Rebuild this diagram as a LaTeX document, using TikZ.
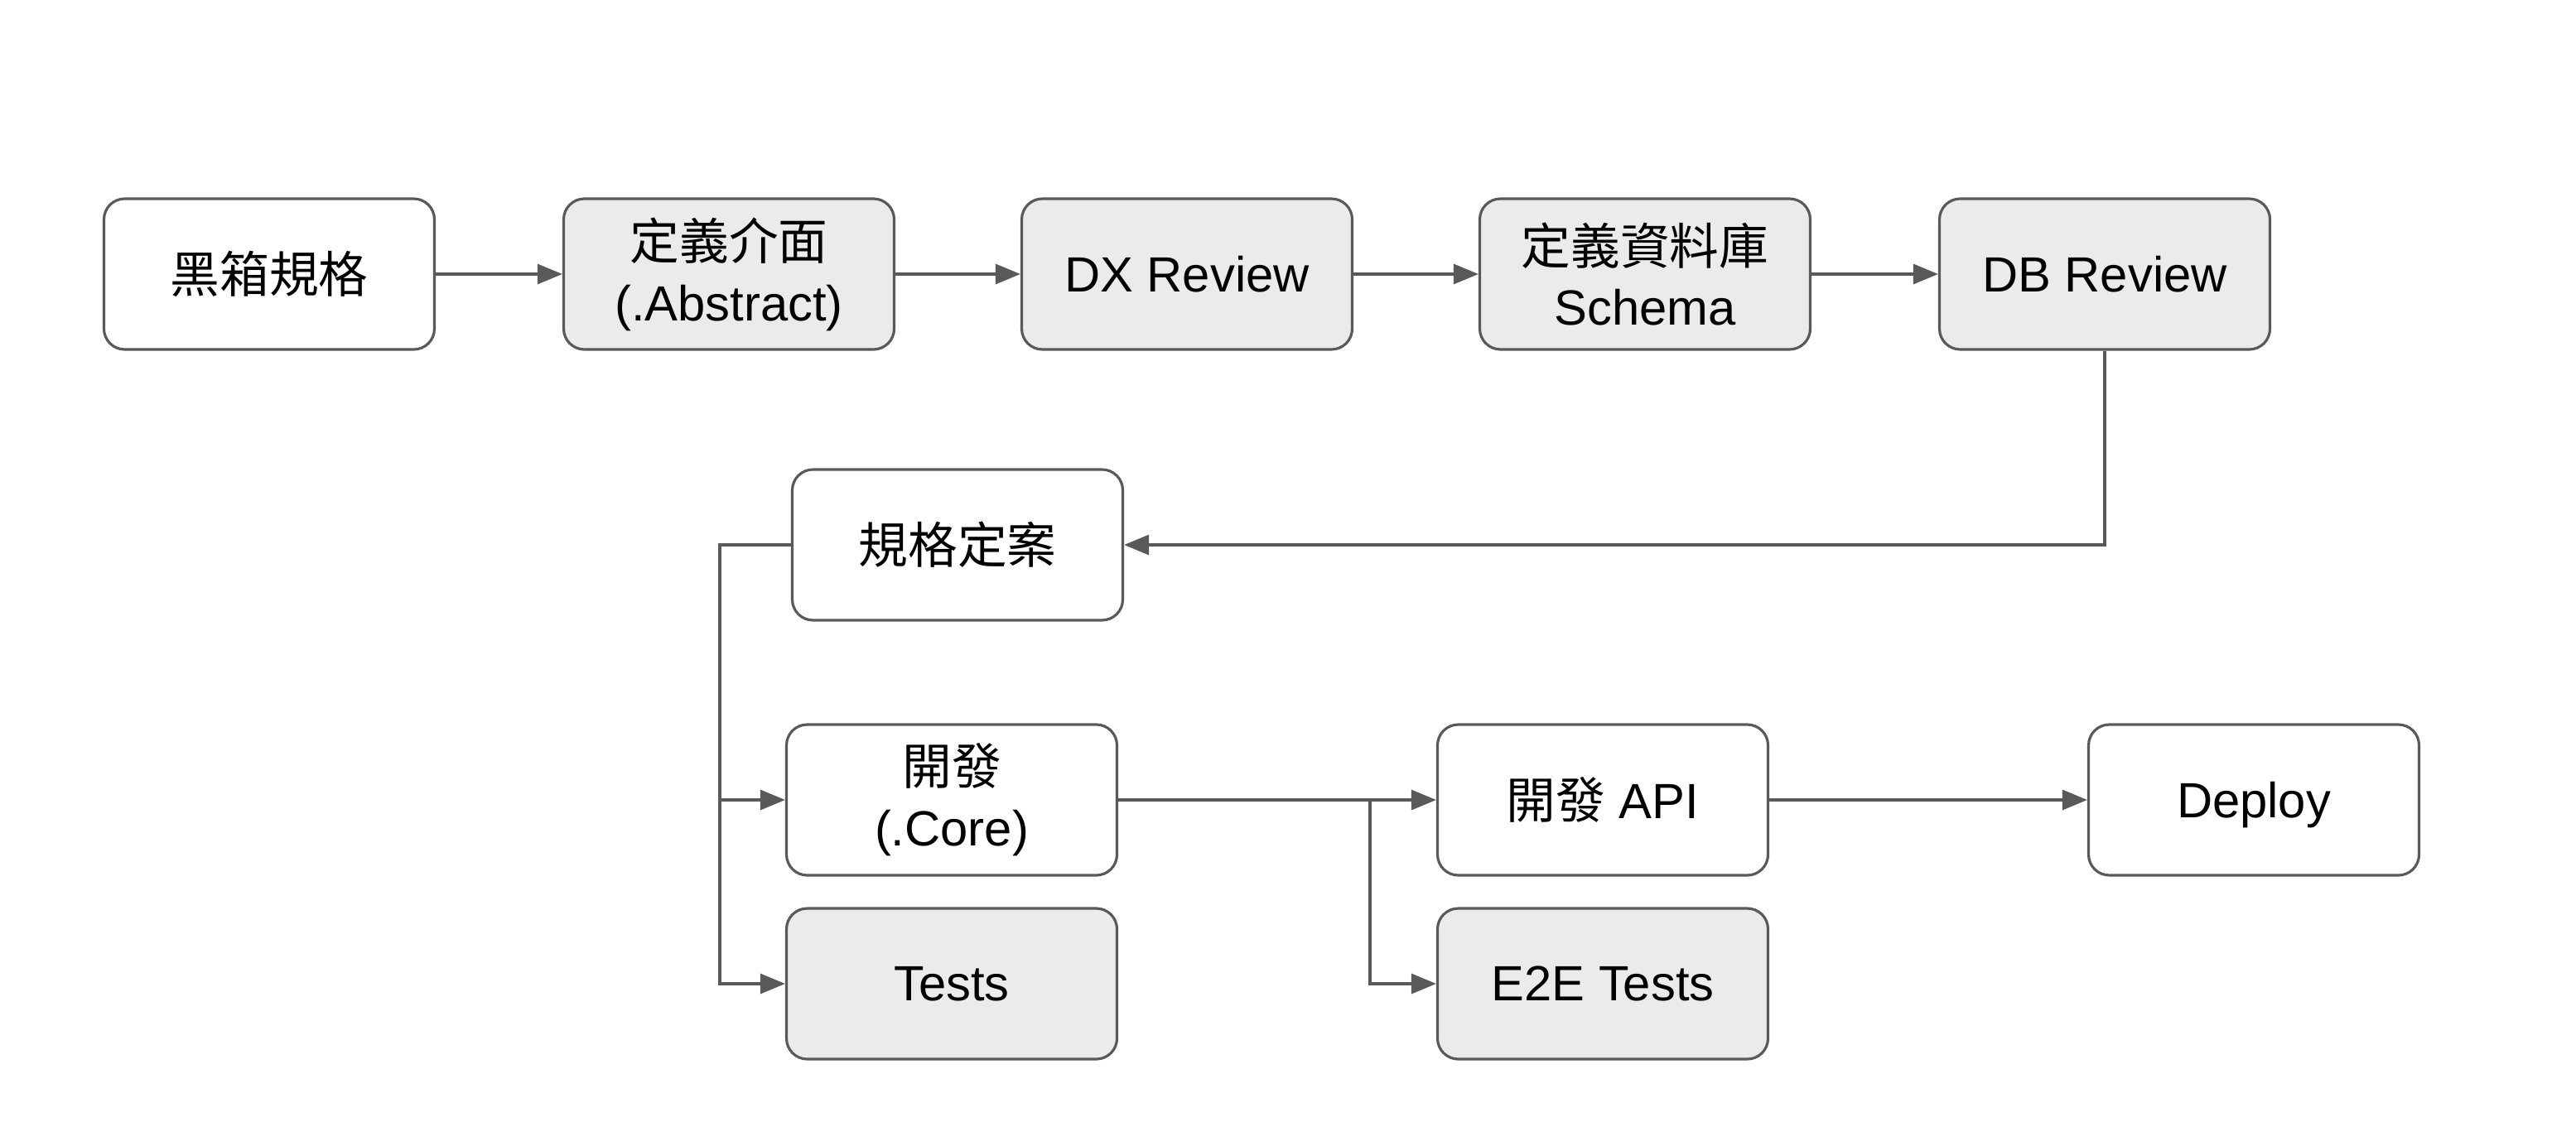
\documentclass[tikz,border=0pt]{standalone}
\usepackage{fontspec}
\setmainfont{Liberation Sans}
\newfontfamily\cjk{Noto Sans CJK TC}
\usetikzlibrary{arrows.meta}
\definecolor{linegray}{HTML}{595959}
\definecolor{boxgray}{HTML}{EBEBEB}
\begin{document}
\begin{tikzpicture}[x=1cm,y=1cm,
	box/.style={draw=linegray,line width=0.9pt,rounded corners=0.25cm,fill=white,
		minimum width=3.99cm,minimum height=1.82cm,align=center,
		font=\fontsize{17}{21}\selectfont},
	graybox/.style={box,fill=boxgray},
	flow/.style={-{Triangle[length=0.3cm,width=0.24cm]},draw=linegray,line width=0.9pt}]
	\useasboundingbox (0,0) rectangle (31.1,-13.6);
	% top row
	\node[box] (a) at (3.25,-3.31) {{\cjk 黑箱規格}};
	\node[graybox] (b) at (8.80,-3.31) {{\cjk 定義介面}\\(.Abstract)};
	\node[graybox] (c) at (14.33,-3.31) {DX Review};
	\node[graybox] (d) at (19.86,-3.31) {{\cjk 定義資料庫}\\Schema};
	\node[graybox] (e) at (25.41,-3.31) {DB Review};
	% spec fixed
	\node[box] (f) at (11.56,-6.58) {{\cjk 規格定案}};
	% bottom rows
	\node[box] (g) at (11.49,-9.66) {{\cjk 開發}\\(.Core)};
	\node[graybox] (h) at (11.49,-11.88) {Tests};
	\node[box] (i) at (19.35,-9.66) {{\cjk 開發} API};
	\node[graybox] (j) at (19.35,-11.88) {E2E Tests};
	\node[box,text depth=0pt] (k) at (27.21,-9.66) {Deploy};
	\coordinate (s) at (8.69,-6.58);
	\coordinate (t) at (16.54,-9.66);
	\draw[flow] (a) to (b);
	\draw[flow] (b) to (c);
	\draw[flow] (c) to (d);
	\draw[flow] (d) to (e);
	\draw[flow] (e.south) |- (f.east);
	\draw[flow] (f.west) -- (s) |- (g.west);
	\draw[flow] (s) |- (h.west);
	\draw[flow] (g) to (i);
	\draw[flow] (t) |- (j.west);
	\draw[flow] (i) to (k);
\end{tikzpicture}
\end{document}
